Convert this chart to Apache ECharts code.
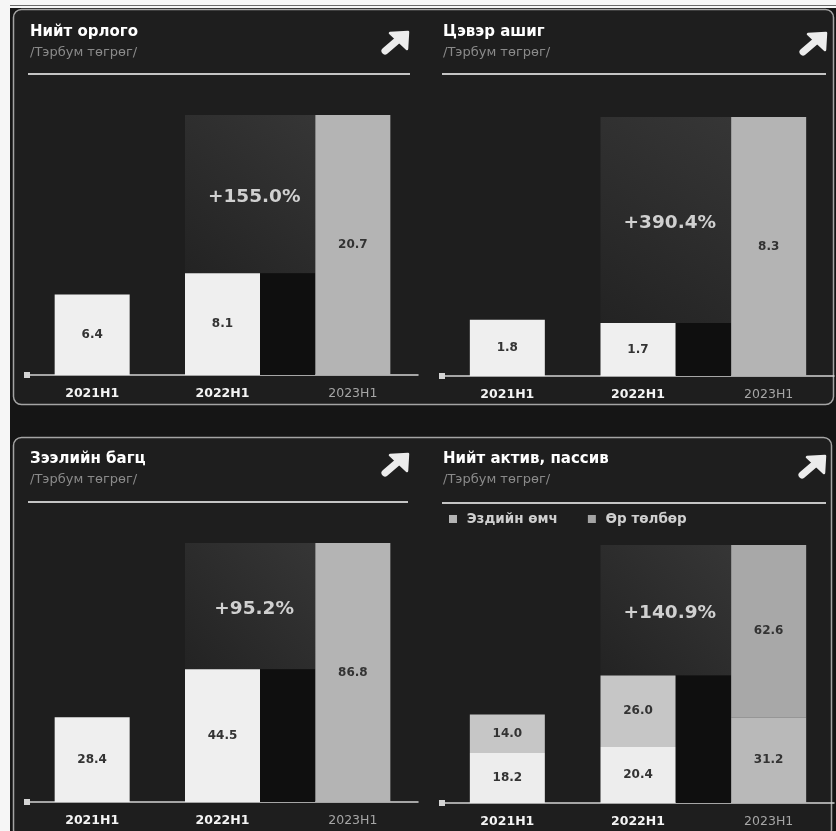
<!DOCTYPE html>
<html><head><meta charset="utf-8">
<script src="https://cdn.jsdelivr.net/npm/echarts@6/dist/echarts.min.js"></script>
<style>html,body{margin:0;padding:0;background:#161616;}#c{width:836px;height:831px;}</style>
</head><body><div id="c"></div>
<script>
// ---- data ----
const categories = ['2021H1', '2022H1', '2023H1'];
const revenue = [6.4, 8.1, 20.7];
const netProfit = [1.8, 1.7, 8.3];
const loans = [28.4, 44.5, 86.8];
const equity = [18.2, 20.4, 31.2];
const liabilities = [14.0, 26.0, 62.6];
const growthLabels = ['+155.0%', '+390.4%', '+95.2%', '+140.9%'];
const panelTitles = ['Нийт орлого', 'Цэвэр ашиг', 'Зээлийн багц', 'Нийт актив, пассив'];
const panelSubtitle = '/Тэрбум төгрөг/';
const legendNames = ['Эздийн өмч', 'Өр төлбөр'];

// ---- layout / style ----
const FONT = '"DejaVu Sans", sans-serif';
const BAR_W = 75;
const grids = [
  {left: 27, width: 391, top: 115, height: 260},
  {left: 442, width: 392, top: 117, height: 259},
  {left: 27, width: 391, top: 543, height: 259},
  {left: 442, width: 392, top: 545, height: 258}
];
const titlePos = [[30, 25], [443, 25], [30, 452], [443, 452]];
const sepLines = [[28, 410, 74], [442, 826, 74], [28, 408, 502], [442, 826, 503]];
const arrowPos = [[381, 32], [799, 33], [381, 454], [798, 456]];

const chart = echarts.init(document.getElementById('c'), null, {renderer: 'canvas'});

function sumArr(a, b) { return a.map((v, i) => +(v + b[i]).toFixed(1)); }
const totals = [revenue, netProfit, loans, sumArr(equity, liabilities)];

function growthSeries(idx) {
  const t = totals[idx];
  return {
    type: 'custom', xAxisIndex: idx, yAxisIndex: idx, z: 1, silent: true,
    data: [[1, t[1], t[2]]],
    encode: {x: 0, y: [1, 2]},
    renderItem: function (params, api) {
      const v22 = api.value(1), v23 = api.value(2);
      const p22 = api.coord([1, v22]);
      const p23 = api.coord([2, v23]);
      const p0 = api.coord([2, 0]);
      const left = p22[0] - BAR_W / 2;
      const right = p23[0] - BAR_W / 2;
      const r22 = p22[0] + BAR_W / 2;
      return {
        type: 'group',
        children: [
          {type: 'rect', shape: {x: left, y: p23[1], width: right - left, height: p22[1] - p23[1]},
           style: {fill: new echarts.graphic.LinearGradient(0, 1, 1, 0, [
             {offset: 0, color: '#232323'}, {offset: 1, color: '#363636'}])}},
          {type: 'rect', shape: {x: r22, y: p22[1], width: right - r22, height: p0[1] - p22[1]},
           style: {fill: '#0f0f0f'}},
          {type: 'text', x: (left + right) / 2 + 4, y: (p23[1] + p22[1]) / 2 + 3,
           style: {text: growthLabels[idx], fill: '#d0d0d0', font: 'bold 18.5px ' + FONT,
                   align: 'center', verticalAlign: 'middle'}}
        ]
      };
    }
  };
}

const labelStyle = {show: true, position: 'inside', color: '#333', fontSize: 12, fontWeight: 600, fontFamily: FONT};
function colored(arr, c, cLast) {
  return arr.map((v, i) => ({value: v, itemStyle: {color: i === arr.length - 1 ? cLast : c}}));
}
function simpleBar(idx, arr) {
  return {type: 'bar', xAxisIndex: idx, yAxisIndex: idx, z: 3, barWidth: BAR_W,
    data: colored(arr, '#efefef', '#b4b4b4'), label: Object.assign({}, labelStyle,
      {formatter: p => p.value.toFixed(1)})};
}

const xAxes = grids.map((g, i) => ({
  type: 'category', gridIndex: i, data: categories,
  axisTick: {show: false},
  axisLine: {show: true, lineStyle: {color: '#d4d4d4', width: 1.5}, symbol: ['rect', 'none'], symbolSize: [6, 6]},
  axisLabel: {
    margin: 12,
    formatter: (v, k) => (k === 2 ? '{g|' + v + '}' : '{w|' + v + '}'),
    rich: {
      w: {color: '#f4f4f4', fontWeight: 700, fontSize: 12.5, fontFamily: FONT},
      g: {color: '#a6a6a6', fontWeight: 400, fontSize: 12.5, fontFamily: FONT}
    }
  }
}));
const yAxes = grids.map((g, i) => ({
  type: 'value', gridIndex: i, min: 0, max: 'dataMax', show: false, splitLine: {show: false}
}));

const graphics = [];
// page background pieces
graphics.push({type: 'rect', z: -20, shape: {x: 0, y: 0, width: 10, height: 831}, style: {fill: '#f6f6f6'}});
graphics.push({type: 'rect', z: -20, shape: {x: 0, y: 0, width: 836, height: 8}, style: {fill: '#f6f6f6'}});
graphics.push({type: 'line', z: -19, shape: {x1: 10, y1: 5.5, x2: 836, y2: 5.5}, style: {stroke: '#6a6a6a', lineWidth: 1.2}});
// panels
graphics.push({type: 'rect', z: -10, shape: {x: 13.5, y: 9.5, width: 820, height: 395, r: 8},
  style: {fill: '#1e1e1e', stroke: '#a4a4a4', lineWidth: 1.5}});
graphics.push({type: 'rect', z: -10, shape: {x: 13.5, y: 437.5, width: 818, height: 400, r: 8},
  style: {fill: '#1e1e1e', stroke: '#a4a4a4', lineWidth: 1.5}});
sepLines.forEach(s => graphics.push({type: 'line', z: 5, shape: {x1: s[0], y1: s[2], x2: s[1], y2: s[2]},
  style: {stroke: '#c4c4c4', lineWidth: 2}}));
arrowPos.forEach(a => graphics.push({type: 'group', x: a[0], y: a[1], z: 5, children: [
  {type: 'line', shape: {x1: 4, y1: 19, x2: 18, y2: 7}, style: {stroke: '#ececec', lineWidth: 7, lineCap: 'round'}},
  {type: 'polygon', shape: {points: [[9, 1], [27, 0], [26, 17]]}, style: {fill: '#ececec', stroke: '#ececec', lineWidth: 2.5, lineJoin: 'round'}}
]}));

const option = {
  backgroundColor: '#151515',
  animation: false,
  title: panelTitles.map((t, i) => ({
    text: t, subtext: panelSubtitle, left: titlePos[i][0], top: titlePos[i][1], padding: 0, itemGap: 6,
    textStyle: {color: '#ffffff', fontSize: 15, fontWeight: 700, fontFamily: FONT},
    subtextStyle: {color: '#8a8a8a', fontSize: 13, fontFamily: FONT}
  })),
  legend: {
    left: 444, top: 507, icon: 'rect', itemWidth: 8, itemHeight: 8, itemGap: 30,
    formatter: n => ' ' + n,
    textStyle: {color: '#cfcfcf', fontSize: 13.5, fontFamily: FONT, fontWeight: 600},
    data: [{name: legendNames[0], itemStyle: {color: '#b4b4b4'}}, {name: legendNames[1], itemStyle: {color: '#a4a4a4'}}]
  },
  grid: grids,
  xAxis: xAxes,
  yAxis: yAxes,
  graphic: graphics,
  series: [
    growthSeries(0), growthSeries(1), growthSeries(2), growthSeries(3),
    simpleBar(0, revenue), simpleBar(1, netProfit), simpleBar(2, loans),
    {name: legendNames[0], type: 'bar', stack: 'total', xAxisIndex: 3, yAxisIndex: 3, z: 3, barWidth: BAR_W,
     data: colored(equity, '#ededed', '#b9b9b9'),
     label: Object.assign({}, labelStyle, {formatter: p => p.value.toFixed(1)})},
    {name: legendNames[1], type: 'bar', stack: 'total', xAxisIndex: 3, yAxisIndex: 3, z: 3, barWidth: BAR_W,
     data: colored(liabilities, '#c6c6c6', '#a8a8a8'),
     label: Object.assign({}, labelStyle, {formatter: p => p.value.toFixed(1)})}
  ]
};
chart.setOption(option);
</script>
</body></html>
